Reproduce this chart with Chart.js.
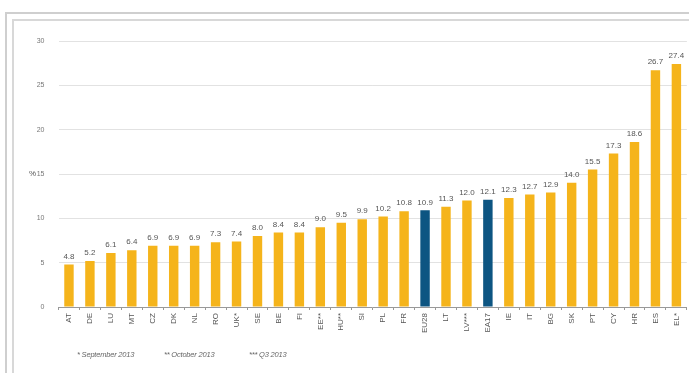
<!DOCTYPE html>
<html>
<head>
    <title>Unemployment rates, November 2013</title>
    <script src="https://cdn.jsdelivr.net/npm/chart.js"></script>
    <style>
        body {
            margin: 0;
            background: #fff;
            font-family: "Liberation Sans", Arial, sans-serif;
            overflow: hidden;
        }
        .frame-outer {
            position: absolute;
            left: 5px; top: 12px;
            width: 700px; height: 400px;
            border: 2px solid #cfcfcf;
        }
        .frame-inner {
            position: absolute;
            left: 12px; top: 19px;
            width: 700px; height: 400px;
            border: 2px solid #d8d8d8;
        }
        #wrap {
            position: absolute;
            left: 0; top: 0;
            width: 689px; height: 373px;
        }
        .notes {
            position: absolute;
            top: 350px;
            font-family: "Liberation Sans", Arial, sans-serif;
            font-style: italic;
            font-size: 7.5px;
            letter-spacing: -0.2px;
            color: #666;
            white-space: nowrap;
        }
    </style>
</head>
<body>
    <div class="frame-outer"></div>
    <div class="frame-inner"></div>
    <div id="wrap"><canvas id="rates" width="689" height="373"></canvas></div>
    <div class="notes" style="left:77px">* September 2013</div>
    <div class="notes" style="left:164px">** October 2013</div>
    <div class="notes" style="left:249px">*** Q3 2013</div>

    <script>
        // Member states, ordered by rate
        const countries = ['AT', 'DE', 'LU', 'MT', 'CZ', 'DK', 'NL', 'RO', 'UK*', 'SE',
            'BE', 'FI', 'EE**', 'HU**', 'SI', 'PL', 'FR', 'EU28', 'LT', 'LV***',
            'EA17', 'IE', 'IT', 'BG', 'SK', 'PT', 'CY', 'HR', 'ES', 'EL*'];
        const rates = [4.8, 5.2, 6.1, 6.4, 6.9, 6.9, 6.9, 7.3, 7.4, 8.0,
            8.4, 8.4, 9.0, 9.5, 9.9, 10.2, 10.8, 10.9, 11.3, 12.0,
            12.1, 12.3, 12.7, 12.9, 14.0, 15.5, 17.3, 18.6, 26.7, 27.4];
        const aggregates = ['EU28', 'EA17'];
        const yTicks = [0, 5, 10, 15, 20, 25, 30];

        const barColors = countries.map(c => aggregates.includes(c) ? '#0d5582' : '#f5b41b');

        // value above every bar, plus the "%" unit next to the y axis
        const valueLabels = {
            id: 'valueLabels',
            afterDatasetsDraw(chart) {
                const ctx = chart.ctx;
                const meta = chart.getDatasetMeta(0);
                ctx.save();
                ctx.font = '8px "Liberation Sans", Arial, sans-serif';
                ctx.fillStyle = '#555';
                ctx.textAlign = 'center';
                ctx.textBaseline = 'bottom';
                meta.data.forEach((bar, i) => {
                    ctx.fillText(rates[i].toFixed(1), bar.x, bar.y - 4);
                });
                const y15 = chart.scales.y.getPixelForValue(15);
                ctx.textAlign = 'left';
                ctx.textBaseline = 'middle';
                ctx.fillText('%', 29, y15);
                ctx.restore();
            }
        };

        const chart = new Chart(document.getElementById('rates'), {
            type: 'bar',
            data: {
                labels: countries,
                datasets: [{
                    data: rates,
                    backgroundColor: barColors,
                    barPercentage: 0.45,
                    categoryPercentage: 1.0
                }]
            },
            options: {
                responsive: false,
                animation: false,
                layout: { padding: { top: 41, right: 0, left: 0, bottom: 0 } },
                plugins: {
                    legend: { display: false },
                    tooltip: { enabled: false }
                },
                scales: {
                    x: {
                        grid: {
                            drawOnChartArea: false,
                            drawTicks: true,
                            tickLength: 3,
                            color: '#999'
                        },
                        border: { color: '#999', width: 1 },
                        ticks: {
                            minRotation: 90,
                            maxRotation: 90,
                            autoSkip: false,
                            padding: 3,
                            color: '#555',
                            font: { size: 8, family: '"Liberation Sans", Arial, sans-serif' }
                        },
                        afterFit(scale) { scale.height = 66; }
                    },
                    y: {
                        min: 0,
                        max: 30,
                        afterBuildTicks(scale) {
                            scale.ticks = yTicks.map(v => ({ value: v }));
                        },
                        grid: {
                            color: '#e2e2e2',
                            drawTicks: false
                        },
                        border: { display: false },
                        ticks: {
                            padding: 14,
                            color: '#777',
                            font: { size: 7, family: '"Liberation Sans", Arial, sans-serif' }
                        },
                        afterFit(scale) { scale.width = 58.5; }
                    }
                }
            },
            plugins: [valueLabels]
        });
    </script>
</body>
</html>
